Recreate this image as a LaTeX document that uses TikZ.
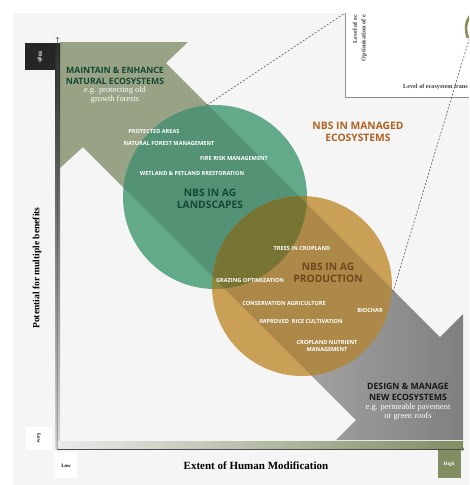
\documentclass[tikz,border=0pt]{standalone}
\usepackage{fontspec}
\setmainfont{Liberation Serif}
\newfontfamily\headfont{Open Sans}

\definecolor{paper}{RGB}{245,245,245}
\definecolor{sage}{RGB}{152,162,132}
\definecolor{agreen}{RGB}{98,170,138}
\definecolor{agold}{RGB}{201,160,86}
\definecolor{olivemix}{RGB}{140,136,60}
\definecolor{darkgreen}{RGB}{20,72,52}
\definecolor{nbsbrown}{RGB}{110,72,28}
\definecolor{nbsorange}{RGB}{178,98,34}
\definecolor{axisolive}{RGB}{128,142,98}

\begin{document}
\begin{tikzpicture}[x=1pt,y=-1pt,line join=round,
  lbl/.style={font=\headfont\bfseries\fontsize{5.6}{6.4}\selectfont,text=white,inner sep=0pt},
  head/.style={font=\headfont\bfseries\fontsize{10.3}{12}\selectfont,align=center,inner sep=0pt},
  arrowhead/.style={font=\headfont\bfseries\fontsize{8.7}{10.5}\selectfont,align=center,inner sep=0pt},
  eg/.style={font=\fontsize{8.4}{9.5}\selectfont,text=white,align=center,inner sep=0pt},
  axislabel/.style={font=\bfseries\fontsize{9.5}{11}\selectfont,inner sep=0pt},
  tick/.style={font=\bfseries\fontsize{5}{6}\selectfont,inner sep=0pt},
  insettxt/.style={font=\bfseries\fontsize{6.2}{7}\selectfont,text=black!75,inner sep=0pt}]
\useasboundingbox (0,0) rectangle (469,485);
\fill[white] (0,0) rectangle (469,485);
\fill[paper] (13,13) rectangle (469,485);

% inset chart, cut at the page edge
\fill[white] (345,13) rectangle (469,97);
\draw[black!45] (345,13) -- (345,97) -- (469,97);
\node[insettxt,rotate=90,anchor=east] (lvl) at (355,15) {Level of ec};
\node[insettxt,rotate=90,anchor=east] (opt) at (364,15) {Optimisation of e};
\node[insettxt,anchor=east] (trans) at (468,87) {Level of ecosystem trans};
\begin{scope}
  \clip (345,13) rectangle (469,97);
  \draw[line width=2.6pt,black!45!olive!70] (471,15) .. controls (465,22) and (465,30) .. (468,38);
\end{scope}

% double arrow: natural (top left) to new ecosystems (bottom right)
\fill[sage] (60,42) -- (188,42) -- (166,63) -- (312,209) -- (228,292) -- (83,147) -- (60,168) -- cycle;
\shade[left color=black!30,right color=black!50] (312,209) -- (440,337) -- (463,314) -- (463,440)
  -- (336,440) -- (356,420) -- (228,292) -- cycle;

% circles
\fill[agreen] (215,197) circle[radius=92pt];
\fill[agold] (302,286) circle[radius=90pt];
\begin{scope}
  \clip (215,197) circle[radius=92pt];
  \fill[olivemix] (302,286) circle[radius=90pt];
\end{scope}
\begin{scope}
  \clip (103,0) -- (500,397) -- (500,564) -- (-64,0) -- cycle;
  \fill[black,opacity=.14] (215,197) circle[radius=92pt] (302,286) circle[radius=90pt];
\end{scope}

% dotted leaders to the inset
\coordinate (gtop) at (207,105);
\coordinate (inA) at (345,13);
\coordinate (gright) at (393,292);
\coordinate (inB) at (477,13);
\begin{scope}
  \clip (0,0) rectangle (469,485);
  \draw[black!65,dash pattern=on 2pt off 1.6pt,line width=.6pt] (gtop) -- (inA);
  \draw[black!65,dash pattern=on 2pt off 1.6pt,line width=.6pt] (gright) -- (inB);
\end{scope}

% axes
\shade[top color=black!85,bottom color=black!15] (55,43) rectangle (60,448);
\shade[left color=black!8,right color=axisolive] (57,441) rectangle (463,448);
\coordinate (origin) at (57,449);
\coordinate (ytip) at (57.5,37);
\coordinate (xtip) at (464,449);
\draw[->,black!70,line width=.5pt] (origin) -- (ytip);
\draw[->,black!70,line width=.5pt] (origin) -- (xtip);

\fill[black!85] (25,43) rectangle (55,70);
\node[tick,text=white,rotate=-90] (yhigh) at (40,57) {High};
\fill[white] (26,427) rectangle (52,450);
\node[tick,rotate=-90] (ylow) at (39,438) {Low};
\fill[white] (55,452) rectangle (77,478);
\node[tick] (xlow) at (66,466) {Low};
\fill[axisolive] (438,450) rectangle (461,478);
\node[tick,text=white] (xhigh) at (449,464) {High};

\node[axislabel,font=\bfseries\fontsize{11}{12}\selectfont] (xlabel) at (256,466) {Extent of Human Modification};
\node[axislabel,rotate=90] (ylabel) at (37,268) {Potential for multiple benefits};

% arrow heads text
\node[arrowhead,text=darkgreen] (maintain) at (115,76) {MAINTAIN \& ENHANCE\\NATURAL ECOSYSTEMS};
\node[eg] (maintaineg) at (115,95) {e.g. protecting old\\growth forests};
\node[arrowhead,text=black!90] (design) at (408,392) {DESIGN \& MANAGE\\NEW ECOSYSTEMS};
\node[eg] (designeg) at (408,412) {e.g. permeable pavement\\or green roofs};

% circle titles
\node[head,text=darkgreen] (landscapes) at (210,199) {NBS IN AG\\LANDSCAPES};
\node[head,text=nbsbrown] (production) at (328,273) {NBS IN AG\\PRODUCTION};
\node[head,text=nbsorange] (managed) at (358,132) {NBS IN MANAGED\\ECOSYSTEMS};

% practices
\node[lbl] (protected) at (154,131) {PROTECTED AREAS};
\node[lbl] (forest) at (169,143) {NATURAL FOREST MANAGEMENT};
\node[lbl] (fire) at (234,158) {FIRE RISK MANAGEMENT};
\node[lbl] (wetland) at (192,173) {WETLAND \& PETLAND RRESTORATION};
\node[lbl] (trees) at (302,248) {TREES IN CROPLAND};
\node[lbl] (grazing) at (250,280) {GRAZING OPTIMIZATION};
\node[lbl] (conservation) at (284,303) {CONSERVATION AGRICULTURE};
\node[lbl] (biochar) at (370,310) {BIOCHAR};
\node[lbl] (rice) at (301,321) {IMPROVED\ \ RICE CULTIVATION};
\node[lbl,align=center] (nutrient) at (327,346) {CROPLAND NUTRIENT\\MANAGEMENT};
\end{tikzpicture}
\end{document}
